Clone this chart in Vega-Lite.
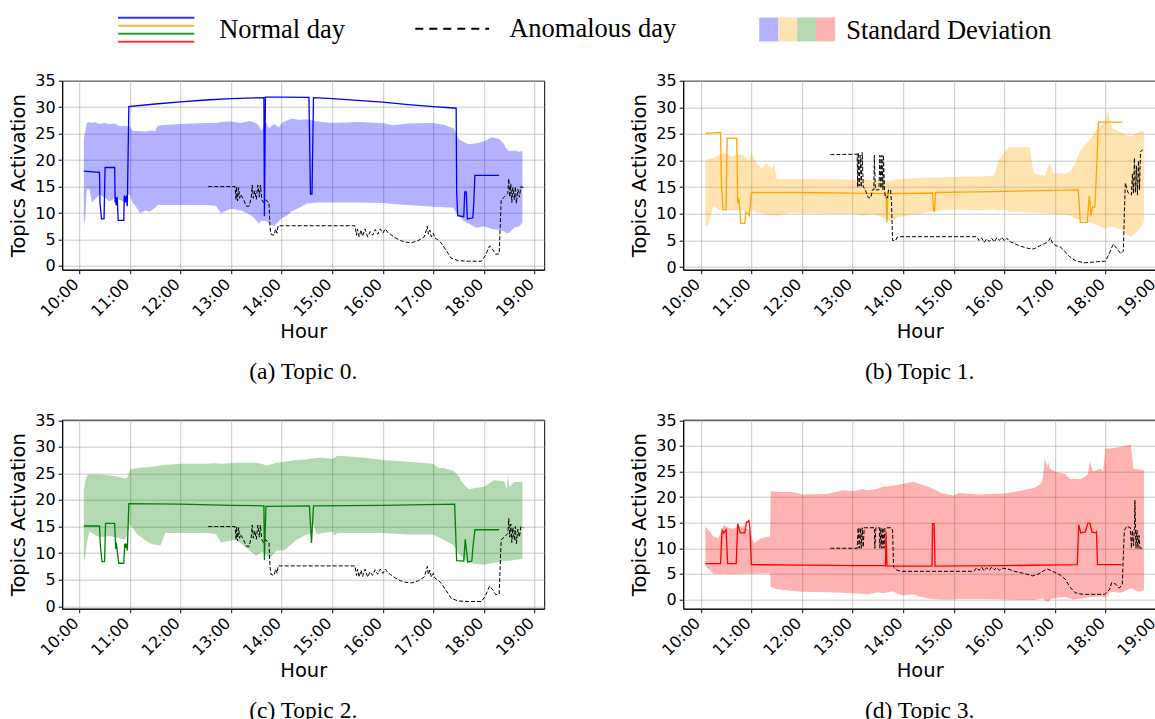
{
  "$schema": "https://vega.github.io/schema/vega-lite/v6.json",
  "padding": {"left": 8.2, "top": 13.7, "right": 0, "bottom": 0},
  "background": "white",
  "bounds": "flush",
  "columns": 2,
  "spacing": {"row": 150, "column": 139},
  "datasets": {
    "line": [
      {"q":"T0","h":10.09,"v":17.9},{"q":"T0","h":10.40,"v":17.7},{"q":"T0","h":10.41,"v":12.0},{"q":"T0","h":10.44,"v":8.9},{"q":"T0","h":10.49,"v":8.9},{"q":"T0","h":10.51,"v":18.6},{"q":"T0","h":10.70,"v":18.6},{"q":"T0","h":10.71,"v":12.0},{"q":"T0","h":10.72,"v":13.0},{"q":"T0","h":10.73,"v":11.5},{"q":"T0","h":10.75,"v":13.0},{"q":"T0","h":10.77,"v":8.6},{"q":"T0","h":10.88,"v":8.6},{"q":"T0","h":10.89,"v":13.3},{"q":"T0","h":10.91,"v":12.0},{"q":"T0","h":10.93,"v":13.3},{"q":"T0","h":10.95,"v":11.3},{"q":"T0","h":10.98,"v":30.1},{"q":"T0","h":11.5,"v":30.6},{"q":"T0","h":12.0,"v":31.0},{"q":"T0","h":12.5,"v":31.35},{"q":"T0","h":13.0,"v":31.6},{"q":"T0","h":13.65,"v":31.8},{"q":"T0","h":13.66,"v":9.4},{"q":"T0","h":13.68,"v":31.9},{"q":"T0","h":14.0,"v":31.9},{"q":"T0","h":14.54,"v":31.85},{"q":"T0","h":14.57,"v":13.6},{"q":"T0","h":14.60,"v":13.6},{"q":"T0","h":14.63,"v":31.8},{"q":"T0","h":15.0,"v":31.6},{"q":"T0","h":15.5,"v":31.3},{"q":"T0","h":16.0,"v":30.95},{"q":"T0","h":16.5,"v":30.5},{"q":"T0","h":17.0,"v":30.1},{"q":"T0","h":17.45,"v":29.8},{"q":"T0","h":17.46,"v":14.0},{"q":"T0","h":17.48,"v":9.5},{"q":"T0","h":17.60,"v":9.3},{"q":"T0","h":17.62,"v":14.0},{"q":"T0","h":17.65,"v":14.0},{"q":"T0","h":17.67,"v":8.9},{"q":"T0","h":17.78,"v":9.1},{"q":"T0","h":17.80,"v":12.3},{"q":"T0","h":17.82,"v":17.1},{"q":"T0","h":18.30,"v":17.1},
      {"q":"T1","h":10.09,"v":25.1},{"q":"T1","h":10.39,"v":25.3},{"q":"T1","h":10.41,"v":15.0},{"q":"T1","h":10.44,"v":10.8},{"q":"T1","h":10.50,"v":10.8},{"q":"T1","h":10.52,"v":24.2},{"q":"T1","h":10.71,"v":24.2},{"q":"T1","h":10.73,"v":12.0},{"q":"T1","h":10.75,"v":13.0},{"q":"T1","h":10.77,"v":11.0},{"q":"T1","h":10.79,"v":8.2},{"q":"T1","h":10.87,"v":8.2},{"q":"T1","h":10.89,"v":10.3},{"q":"T1","h":10.94,"v":10.0},{"q":"T1","h":10.96,"v":9.7},{"q":"T1","h":11.00,"v":14.0},{"q":"T1","h":12.0,"v":14.0},{"q":"T1","h":13.0,"v":13.9},{"q":"T1","h":13.66,"v":13.8},{"q":"T1","h":13.68,"v":8.4},{"q":"T1","h":13.70,"v":13.8},{"q":"T1","h":14.58,"v":13.9},{"q":"T1","h":14.60,"v":10.6},{"q":"T1","h":14.62,"v":10.5},{"q":"T1","h":14.64,"v":14.0},{"q":"T1","h":15.5,"v":14.1},{"q":"T1","h":16.5,"v":14.3},{"q":"T1","h":17.46,"v":14.5},{"q":"T1","h":17.50,"v":8.4},{"q":"T1","h":17.64,"v":8.4},{"q":"T1","h":17.66,"v":11.5},{"q":"T1","h":17.68,"v":13.4},{"q":"T1","h":17.71,"v":9.5},{"q":"T1","h":17.74,"v":11.3},{"q":"T1","h":17.79,"v":11.3},{"q":"T1","h":17.81,"v":15.5},{"q":"T1","h":17.86,"v":27.2},{"q":"T1","h":18.33,"v":27.2},
      {"q":"T2","h":10.09,"v":15.1},{"q":"T2","h":10.40,"v":15.1},{"q":"T2","h":10.42,"v":11.0},{"q":"T2","h":10.45,"v":8.4},{"q":"T2","h":10.50,"v":8.4},{"q":"T2","h":10.52,"v":15.6},{"q":"T2","h":10.70,"v":15.6},{"q":"T2","h":10.72,"v":10.8},{"q":"T2","h":10.73,"v":12.0},{"q":"T2","h":10.75,"v":10.5},{"q":"T2","h":10.78,"v":8.1},{"q":"T2","h":10.88,"v":8.1},{"q":"T2","h":10.90,"v":11.8},{"q":"T2","h":10.92,"v":11.0},{"q":"T2","h":10.93,"v":11.8},{"q":"T2","h":10.95,"v":10.5},{"q":"T2","h":10.98,"v":19.3},{"q":"T2","h":12.0,"v":19.2},{"q":"T2","h":13.0,"v":19.0},{"q":"T2","h":13.65,"v":18.9},{"q":"T2","h":13.66,"v":8.7},{"q":"T2","h":13.69,"v":18.8},{"q":"T2","h":14.55,"v":18.9},{"q":"T2","h":14.59,"v":11.9},{"q":"T2","h":14.63,"v":18.9},{"q":"T2","h":16.0,"v":19.0},{"q":"T2","h":17.42,"v":19.2},{"q":"T2","h":17.46,"v":8.6},{"q":"T2","h":17.60,"v":8.5},{"q":"T2","h":17.63,"v":12.6},{"q":"T2","h":17.68,"v":8.3},{"q":"T2","h":17.76,"v":8.5},{"q":"T2","h":17.78,"v":11.0},{"q":"T2","h":17.82,"v":14.4},{"q":"T2","h":18.30,"v":14.4},
      {"q":"T3","h":10.09,"v":7.0},{"q":"T3","h":10.39,"v":7.0},{"q":"T3","h":10.42,"v":13.5},{"q":"T3","h":10.45,"v":13.0},{"q":"T3","h":10.50,"v":13.6},{"q":"T3","h":10.53,"v":7.0},{"q":"T3","h":10.70,"v":7.0},{"q":"T3","h":10.73,"v":14.8},{"q":"T3","h":10.78,"v":13.0},{"q":"T3","h":10.87,"v":13.0},{"q":"T3","h":10.90,"v":15.0},{"q":"T3","h":10.95,"v":15.4},{"q":"T3","h":10.97,"v":14.0},{"q":"T3","h":11.00,"v":6.8},{"q":"T3","h":12.0,"v":6.7},{"q":"T3","h":13.0,"v":6.6},{"q":"T3","h":13.65,"v":6.6},{"q":"T3","h":13.66,"v":13.2},{"q":"T3","h":13.68,"v":6.5},{"q":"T3","h":14.57,"v":6.5},{"q":"T3","h":14.58,"v":14.8},{"q":"T3","h":14.61,"v":14.8},{"q":"T3","h":14.63,"v":6.5},{"q":"T3","h":16.0,"v":6.6},{"q":"T3","h":17.44,"v":6.8},{"q":"T3","h":17.47,"v":14.6},{"q":"T3","h":17.51,"v":13.0},{"q":"T3","h":17.60,"v":13.2},{"q":"T3","h":17.65,"v":14.9},{"q":"T3","h":17.69,"v":14.9},{"q":"T3","h":17.73,"v":13.2},{"q":"T3","h":17.80,"v":13.0},{"q":"T3","h":17.82,"v":13.2},{"q":"T3","h":17.84,"v":6.8},{"q":"T3","h":18.32,"v":6.8}
    ],
    "anom": [
      {"p":0,"h":12.55,"v":15.0},{"p":0,"h":13.08,"v":15.0},{"p":0,"h":13.10,"v":12.5},{"p":0,"h":13.11,"v":15.0},{"p":0,"h":13.13,"v":12.3},{"p":0,"h":13.15,"v":14.8},{"p":0,"h":13.17,"v":12.8},{"p":0,"h":13.19,"v":13.5},{"p":0,"h":13.25,"v":12.5},{"p":0,"h":13.30,"v":11.3},{"p":0,"h":13.36,"v":11.3},{"p":0,"h":13.40,"v":13.0},{"p":0,"h":13.42,"v":15.3},{"p":0,"h":13.44,"v":12.8},{"p":0,"h":13.47,"v":14.2},{"p":0,"h":13.50,"v":12.6},{"p":0,"h":13.53,"v":15.3},{"p":0,"h":13.56,"v":13.0},{"p":0,"h":13.58,"v":15.3},{"p":0,"h":13.61,"v":12.5},{"p":0,"h":13.64,"v":12.0},{"p":0,"h":13.68,"v":12.5},{"p":0,"h":13.75,"v":12.0},{"p":0,"h":13.77,"v":7.5},{"p":0,"h":13.79,"v":6.0},{"p":0,"h":13.85,"v":5.8},{"p":0,"h":13.88,"v":7.0},{"p":0,"h":13.91,"v":6.2},{"p":0,"h":13.93,"v":7.6},{"p":0,"h":15.45,"v":7.6},{"p":0,"h":15.48,"v":5.8},{"p":0,"h":15.50,"v":7.0},{"p":0,"h":15.53,"v":5.5},{"p":0,"h":15.57,"v":6.8},{"p":0,"h":15.60,"v":5.6},{"p":0,"h":15.65,"v":7.0},{"p":0,"h":15.70,"v":5.5},{"p":0,"h":15.75,"v":6.5},{"p":0,"h":15.80,"v":5.8},{"p":0,"h":15.85,"v":6.9},{"p":0,"h":15.90,"v":6.0},{"p":0,"h":15.95,"v":7.0},{"p":0,"h":16.00,"v":6.2},{"p":0,"h":16.05,"v":7.0},{"p":0,"h":16.10,"v":6.3},{"p":0,"h":16.15,"v":6.0},{"p":0,"h":16.22,"v":5.5},{"p":0,"h":16.35,"v":4.8},{"p":0,"h":16.45,"v":4.5},{"p":0,"h":16.57,"v":4.4},{"p":0,"h":16.70,"v":4.8},{"p":0,"h":16.82,"v":5.5},{"p":0,"h":16.86,"v":6.8},{"p":0,"h":16.88,"v":7.5},{"p":0,"h":16.90,"v":6.0},{"p":0,"h":16.93,"v":6.8},{"p":0,"h":16.96,"v":5.5},{"p":0,"h":17.00,"v":6.2},{"p":0,"h":17.03,"v":5.3},{"p":0,"h":17.08,"v":5.0},{"p":0,"h":17.14,"v":4.5},{"p":0,"h":17.25,"v":3.0},{"p":0,"h":17.35,"v":1.5},{"p":0,"h":17.49,"v":1.0},{"p":0,"h":17.70,"v":0.9},{"p":0,"h":17.95,"v":0.9},{"p":0,"h":18.03,"v":2.0},{"p":0,"h":18.11,"v":3.8},{"p":0,"h":18.18,"v":3.0},{"p":0,"h":18.23,"v":2.2},{"p":0,"h":18.30,"v":2.3},{"p":0,"h":18.34,"v":12.5},{"p":0,"h":18.40,"v":13.0},{"p":0,"h":18.47,"v":13.7},{"p":0,"h":18.49,"v":16.5},{"p":0,"h":18.51,"v":13.0},{"p":0,"h":18.53,"v":15.5},{"p":0,"h":18.55,"v":12.0},{"p":0,"h":18.57,"v":14.8},{"p":0,"h":18.60,"v":12.5},{"p":0,"h":18.62,"v":15.0},{"p":0,"h":18.64,"v":11.8},{"p":0,"h":18.67,"v":14.5},{"p":0,"h":18.70,"v":13.0},{"p":0,"h":18.73,"v":15.0},{"p":0,"h":18.78,"v":14.8},
      {"p":2,"h":12.55,"v":15.0},{"p":2,"h":13.08,"v":15.0},{"p":2,"h":13.10,"v":12.5},{"p":2,"h":13.11,"v":15.0},{"p":2,"h":13.13,"v":12.3},{"p":2,"h":13.15,"v":14.8},{"p":2,"h":13.17,"v":12.8},{"p":2,"h":13.19,"v":13.5},{"p":2,"h":13.25,"v":12.5},{"p":2,"h":13.30,"v":11.3},{"p":2,"h":13.36,"v":11.3},{"p":2,"h":13.40,"v":13.0},{"p":2,"h":13.42,"v":15.3},{"p":2,"h":13.44,"v":12.8},{"p":2,"h":13.47,"v":14.2},{"p":2,"h":13.50,"v":12.6},{"p":2,"h":13.53,"v":15.3},{"p":2,"h":13.56,"v":13.0},{"p":2,"h":13.58,"v":15.3},{"p":2,"h":13.61,"v":12.5},{"p":2,"h":13.64,"v":12.0},{"p":2,"h":13.68,"v":12.5},{"p":2,"h":13.75,"v":12.0},{"p":2,"h":13.77,"v":7.5},{"p":2,"h":13.79,"v":6.0},{"p":2,"h":13.85,"v":5.8},{"p":2,"h":13.88,"v":7.0},{"p":2,"h":13.91,"v":6.2},{"p":2,"h":13.93,"v":7.6},{"p":2,"h":15.45,"v":7.6},{"p":2,"h":15.48,"v":5.8},{"p":2,"h":15.50,"v":7.0},{"p":2,"h":15.53,"v":5.5},{"p":2,"h":15.57,"v":6.8},{"p":2,"h":15.60,"v":5.6},{"p":2,"h":15.65,"v":7.0},{"p":2,"h":15.70,"v":5.5},{"p":2,"h":15.75,"v":6.5},{"p":2,"h":15.80,"v":5.8},{"p":2,"h":15.85,"v":6.9},{"p":2,"h":15.90,"v":6.0},{"p":2,"h":15.95,"v":7.0},{"p":2,"h":16.00,"v":6.2},{"p":2,"h":16.05,"v":7.0},{"p":2,"h":16.10,"v":6.3},{"p":2,"h":16.15,"v":6.0},{"p":2,"h":16.22,"v":5.5},{"p":2,"h":16.35,"v":4.8},{"p":2,"h":16.45,"v":4.5},{"p":2,"h":16.57,"v":4.4},{"p":2,"h":16.70,"v":4.8},{"p":2,"h":16.82,"v":5.5},{"p":2,"h":16.86,"v":6.8},{"p":2,"h":16.88,"v":7.5},{"p":2,"h":16.90,"v":6.0},{"p":2,"h":16.93,"v":6.8},{"p":2,"h":16.96,"v":5.5},{"p":2,"h":17.00,"v":6.2},{"p":2,"h":17.03,"v":5.3},{"p":2,"h":17.08,"v":5.0},{"p":2,"h":17.14,"v":4.5},{"p":2,"h":17.25,"v":3.0},{"p":2,"h":17.35,"v":1.5},{"p":2,"h":17.49,"v":1.0},{"p":2,"h":17.70,"v":0.9},{"p":2,"h":17.95,"v":0.9},{"p":2,"h":18.03,"v":2.0},{"p":2,"h":18.11,"v":3.8},{"p":2,"h":18.18,"v":3.0},{"p":2,"h":18.23,"v":2.2},{"p":2,"h":18.30,"v":2.3},{"p":2,"h":18.34,"v":12.5},{"p":2,"h":18.40,"v":13.0},{"p":2,"h":18.47,"v":13.7},{"p":2,"h":18.49,"v":16.5},{"p":2,"h":18.51,"v":13.0},{"p":2,"h":18.53,"v":15.5},{"p":2,"h":18.55,"v":12.0},{"p":2,"h":18.57,"v":14.8},{"p":2,"h":18.60,"v":12.5},{"p":2,"h":18.62,"v":15.0},{"p":2,"h":18.64,"v":11.8},{"p":2,"h":18.67,"v":14.5},{"p":2,"h":18.70,"v":13.0},{"p":2,"h":18.73,"v":15.0},{"p":2,"h":18.78,"v":14.8},
      {"p":1,"h":12.56,"v":21.1},{"p":1,"h":13.09,"v":21.2},{"p":1,"h":13.10,"v":15.0},{"p":1,"h":13.11,"v":21.5},{"p":1,"h":13.13,"v":15.2},{"p":1,"h":13.15,"v":21.0},{"p":1,"h":13.17,"v":15.0},{"p":1,"h":13.19,"v":21.5},{"p":1,"h":13.21,"v":15.0},{"p":1,"h":13.24,"v":14.8},{"p":1,"h":13.31,"v":13.0},{"p":1,"h":13.36,"v":13.0},{"p":1,"h":13.39,"v":14.5},{"p":1,"h":13.42,"v":14.5},{"p":1,"h":13.43,"v":21.0},{"p":1,"h":13.45,"v":14.5},{"p":1,"h":13.52,"v":14.5},{"p":1,"h":13.54,"v":21.0},{"p":1,"h":13.56,"v":14.8},{"p":1,"h":13.58,"v":21.0},{"p":1,"h":13.60,"v":14.5},{"p":1,"h":13.61,"v":21.0},{"p":1,"h":13.63,"v":14.5},{"p":1,"h":13.65,"v":13.0},{"p":1,"h":13.69,"v":13.0},{"p":1,"h":13.71,"v":14.5},{"p":1,"h":13.75,"v":14.5},{"p":1,"h":13.77,"v":12.0},{"p":1,"h":13.79,"v":5.0},{"p":1,"h":13.85,"v":5.0},{"p":1,"h":13.88,"v":5.6},{"p":1,"h":13.93,"v":5.7},{"p":1,"h":15.45,"v":5.7},{"p":1,"h":15.50,"v":5.0},{"p":1,"h":15.55,"v":5.5},{"p":1,"h":15.60,"v":4.6},{"p":1,"h":15.65,"v":5.3},{"p":1,"h":15.70,"v":4.8},{"p":1,"h":15.75,"v":5.4},{"p":1,"h":15.80,"v":4.7},{"p":1,"h":15.85,"v":5.5},{"p":1,"h":15.90,"v":5.0},{"p":1,"h":15.95,"v":5.6},{"p":1,"h":16.00,"v":4.9},{"p":1,"h":16.05,"v":5.4},{"p":1,"h":16.10,"v":4.8},{"p":1,"h":16.18,"v":4.5},{"p":1,"h":16.29,"v":4.0},{"p":1,"h":16.47,"v":3.5},{"p":1,"h":16.58,"v":3.4},{"p":1,"h":16.70,"v":4.0},{"p":1,"h":16.84,"v":4.6},{"p":1,"h":16.88,"v":5.0},{"p":1,"h":16.91,"v":5.5},{"p":1,"h":16.95,"v":4.5},{"p":1,"h":17.02,"v":4.0},{"p":1,"h":17.10,"v":3.8},{"p":1,"h":17.17,"v":3.2},{"p":1,"h":17.28,"v":2.0},{"p":1,"h":17.42,"v":1.1},{"p":1,"h":17.60,"v":0.8},{"p":1,"h":17.82,"v":1.0},{"p":1,"h":18.00,"v":1.1},{"p":1,"h":18.07,"v":2.5},{"p":1,"h":18.15,"v":4.3},{"p":1,"h":18.22,"v":3.5},{"p":1,"h":18.30,"v":2.5},{"p":1,"h":18.35,"v":3.0},{"p":1,"h":18.39,"v":15.8},{"p":1,"h":18.44,"v":14.0},{"p":1,"h":18.51,"v":13.5},{"p":1,"h":18.53,"v":17.5},{"p":1,"h":18.55,"v":13.8},{"p":1,"h":18.57,"v":20.5},{"p":1,"h":18.59,"v":14.0},{"p":1,"h":18.61,"v":19.0},{"p":1,"h":18.63,"v":13.5},{"p":1,"h":18.65,"v":20.0},{"p":1,"h":18.67,"v":14.5},{"p":1,"h":18.69,"v":21.5},{"p":1,"h":18.70,"v":21.8},{"p":1,"h":18.73,"v":22.0},
      {"p":3,"h":12.56,"v":10.0},{"p":3,"h":13.09,"v":10.0},{"p":3,"h":13.11,"v":14.0},{"p":3,"h":13.13,"v":10.0},{"p":3,"h":13.15,"v":14.0},{"p":3,"h":13.17,"v":10.0},{"p":3,"h":13.19,"v":14.0},{"p":3,"h":13.21,"v":10.2},{"p":3,"h":13.23,"v":14.0},{"p":3,"h":13.43,"v":14.0},{"p":3,"h":13.44,"v":10.0},{"p":3,"h":13.46,"v":14.0},{"p":3,"h":13.53,"v":14.0},{"p":3,"h":13.54,"v":10.0},{"p":3,"h":13.56,"v":14.0},{"p":3,"h":13.58,"v":10.0},{"p":3,"h":13.60,"v":14.0},{"p":3,"h":13.62,"v":10.0},{"p":3,"h":13.64,"v":14.0},{"p":3,"h":13.77,"v":14.0},{"p":3,"h":13.79,"v":13.5},{"p":3,"h":13.81,"v":6.3},{"p":3,"h":13.86,"v":5.8},{"p":3,"h":13.95,"v":5.5},{"p":3,"h":15.40,"v":5.5},{"p":3,"h":15.45,"v":6.2},{"p":3,"h":15.50,"v":5.7},{"p":3,"h":15.55,"v":6.3},{"p":3,"h":15.60,"v":5.6},{"p":3,"h":15.65,"v":6.2},{"p":3,"h":15.70,"v":5.7},{"p":3,"h":15.75,"v":6.3},{"p":3,"h":15.80,"v":5.8},{"p":3,"h":15.85,"v":6.2},{"p":3,"h":15.90,"v":5.7},{"p":3,"h":15.95,"v":6.1},{"p":3,"h":16.06,"v":6.0},{"p":3,"h":16.20,"v":5.5},{"p":3,"h":16.42,"v":5.0},{"p":3,"h":16.56,"v":4.6},{"p":3,"h":16.68,"v":5.0},{"p":3,"h":16.84,"v":6.0},{"p":3,"h":16.95,"v":5.5},{"p":3,"h":17.10,"v":4.8},{"p":3,"h":17.20,"v":4.0},{"p":3,"h":17.29,"v":2.5},{"p":3,"h":17.40,"v":1.3},{"p":3,"h":17.55,"v":1.0},{"p":3,"h":17.98,"v":1.0},{"p":3,"h":18.08,"v":2.0},{"p":3,"h":18.12,"v":3.3},{"p":3,"h":18.20,"v":3.0},{"p":3,"h":18.27,"v":2.2},{"p":3,"h":18.33,"v":3.0},{"p":3,"h":18.37,"v":13.5},{"p":3,"h":18.42,"v":14.3},{"p":3,"h":18.49,"v":14.0},{"p":3,"h":18.51,"v":10.0},{"p":3,"h":18.53,"v":13.5},{"p":3,"h":18.55,"v":10.5},{"p":3,"h":18.57,"v":14.0},{"p":3,"h":18.58,"v":19.4},{"p":3,"h":18.60,"v":10.0},{"p":3,"h":18.62,"v":13.5},{"p":3,"h":18.64,"v":10.0},{"p":3,"h":18.66,"v":12.5},{"p":3,"h":18.68,"v":10.0},{"p":3,"h":18.72,"v":10.0},{"p":3,"h":18.75,"v":9.8}
    ],
    "band": [
      {"p":0,"h":10.09,"lo":7.7,"hi":24.0},{"p":0,"h":10.12,"lo":9.0,"hi":25.5},{"p":0,"h":10.15,"lo":14.5,"hi":27.0},{"p":0,"h":10.20,"lo":14.5,"hi":27.2},{"p":0,"h":10.25,"lo":12.0,"hi":27.0},{"p":0,"h":10.30,"lo":12.5,"hi":27.2},{"p":0,"h":10.40,"lo":13.5,"hi":26.8},{"p":0,"h":10.50,"lo":13.0,"hi":27.0},{"p":0,"h":10.60,"lo":12.2,"hi":26.8},{"p":0,"h":10.70,"lo":12.8,"hi":26.9},{"p":0,"h":10.80,"lo":12.5,"hi":26.4},{"p":0,"h":10.90,"lo":12.0,"hi":26.5},{"p":0,"h":10.97,"lo":13.5,"hi":26.3},{"p":0,"h":11.00,"lo":13.5,"hi":26.4},{"p":0,"h":11.05,"lo":12.0,"hi":25.6},{"p":0,"h":11.10,"lo":11.5,"hi":25.5},{"p":0,"h":11.20,"lo":10.0,"hi":25.5},{"p":0,"h":11.30,"lo":10.5,"hi":25.4},{"p":0,"h":11.40,"lo":10.3,"hi":25.6},{"p":0,"h":11.50,"lo":11.0,"hi":25.5},{"p":0,"h":11.55,"lo":11.5,"hi":26.5},{"p":0,"h":11.60,"lo":11.5,"hi":26.6},{"p":0,"h":12.00,"lo":11.5,"hi":26.8},{"p":0,"h":12.50,"lo":11.5,"hi":27.0},{"p":0,"h":12.70,"lo":11.4,"hi":27.0},{"p":0,"h":12.80,"lo":10.0,"hi":27.2},{"p":0,"h":13.00,"lo":10.8,"hi":27.3},{"p":0,"h":13.20,"lo":10.5,"hi":27.0},{"p":0,"h":13.35,"lo":9.8,"hi":27.4},{"p":0,"h":13.45,"lo":9.2,"hi":27.2},{"p":0,"h":13.55,"lo":8.0,"hi":26.6},{"p":0,"h":13.60,"lo":8.6,"hi":25.5},{"p":0,"h":13.65,"lo":8.5,"hi":26.5},{"p":0,"h":13.70,"lo":8.5,"hi":27.0},{"p":0,"h":13.75,"lo":8.0,"hi":26.0},{"p":0,"h":13.85,"lo":7.5,"hi":26.8},{"p":0,"h":13.95,"lo":8.5,"hi":26.2},{"p":0,"h":14.00,"lo":9.0,"hi":27.0},{"p":0,"h":14.10,"lo":9.5,"hi":27.5},{"p":0,"h":14.20,"lo":10.3,"hi":27.8},{"p":0,"h":14.35,"lo":11.0,"hi":27.6},{"p":0,"h":14.50,"lo":11.8,"hi":27.7},{"p":0,"h":14.70,"lo":12.0,"hi":27.3},{"p":0,"h":15.00,"lo":12.0,"hi":27.0},{"p":0,"h":15.50,"lo":12.0,"hi":27.2},{"p":0,"h":16.00,"lo":11.9,"hi":27.0},{"p":0,"h":16.20,"lo":11.7,"hi":26.6},{"p":0,"h":16.50,"lo":11.5,"hi":26.9},{"p":0,"h":17.00,"lo":11.2,"hi":27.0},{"p":0,"h":17.20,"lo":11.1,"hi":26.7},{"p":0,"h":17.40,"lo":11.0,"hi":26.0},{"p":0,"h":17.45,"lo":10.0,"hi":25.0},{"p":0,"h":17.50,"lo":9.5,"hi":24.0},{"p":0,"h":17.60,"lo":8.5,"hi":23.4},{"p":0,"h":17.70,"lo":8.0,"hi":23.0},{"p":0,"h":17.85,"lo":7.2,"hi":23.2},{"p":0,"h":18.00,"lo":7.5,"hi":23.5},{"p":0,"h":18.15,"lo":7.0,"hi":24.3},{"p":0,"h":18.30,"lo":6.8,"hi":24.0},{"p":0,"h":18.40,"lo":6.5,"hi":23.0},{"p":0,"h":18.45,"lo":6.2,"hi":22.0},{"p":0,"h":18.50,"lo":6.3,"hi":21.7},{"p":0,"h":18.60,"lo":7.2,"hi":21.8},{"p":0,"h":18.70,"lo":7.5,"hi":21.6},{"p":0,"h":18.76,"lo":8.2,"hi":21.7},
      {"p":1,"h":10.09,"lo":7.6,"hi":20.0},{"p":1,"h":10.15,"lo":8.0,"hi":20.3},{"p":1,"h":10.25,"lo":11.5,"hi":20.5},{"p":1,"h":10.35,"lo":10.8,"hi":21.0},{"p":1,"h":10.45,"lo":10.6,"hi":21.5},{"p":1,"h":10.60,"lo":10.6,"hi":20.8},{"p":1,"h":10.80,"lo":10.7,"hi":21.2},{"p":1,"h":10.90,"lo":10.5,"hi":20.5},{"p":1,"h":10.95,"lo":9.5,"hi":20.0},{"p":1,"h":11.00,"lo":11.0,"hi":21.3},{"p":1,"h":11.05,"lo":10.5,"hi":20.5},{"p":1,"h":11.10,"lo":10.2,"hi":19.6},{"p":1,"h":11.20,"lo":10.2,"hi":18.5},{"p":1,"h":11.30,"lo":9.8,"hi":19.5},{"p":1,"h":11.40,"lo":9.7,"hi":18.5},{"p":1,"h":11.45,"lo":9.7,"hi":19.5},{"p":1,"h":11.50,"lo":9.7,"hi":16.5},{"p":1,"h":11.80,"lo":10.2,"hi":16.5},{"p":1,"h":12.50,"lo":10.0,"hi":16.5},{"p":1,"h":13.00,"lo":10.0,"hi":16.4},{"p":1,"h":13.20,"lo":9.7,"hi":16.5},{"p":1,"h":13.40,"lo":10.0,"hi":16.3},{"p":1,"h":13.60,"lo":9.3,"hi":16.4},{"p":1,"h":13.75,"lo":8.5,"hi":16.2},{"p":1,"h":13.90,"lo":9.3,"hi":16.5},{"p":1,"h":14.00,"lo":9.5,"hi":16.6},{"p":1,"h":14.30,"lo":9.9,"hi":16.7},{"p":1,"h":14.60,"lo":10.5,"hi":16.8},{"p":1,"h":15.00,"lo":10.8,"hi":16.9},{"p":1,"h":15.50,"lo":10.6,"hi":17.0},{"p":1,"h":15.80,"lo":10.8,"hi":17.2},{"p":1,"h":15.88,"lo":10.6,"hi":20.0},{"p":1,"h":16.00,"lo":10.8,"hi":21.5},{"p":1,"h":16.10,"lo":10.4,"hi":22.5},{"p":1,"h":16.50,"lo":10.3,"hi":22.5},{"p":1,"h":16.55,"lo":10.2,"hi":19.0},{"p":1,"h":16.60,"lo":10.2,"hi":17.5},{"p":1,"h":16.80,"lo":10.1,"hi":17.2},{"p":1,"h":16.90,"lo":10.0,"hi":19.7},{"p":1,"h":16.95,"lo":10.0,"hi":17.7},{"p":1,"h":17.20,"lo":9.8,"hi":17.5},{"p":1,"h":17.30,"lo":9.7,"hi":18.0},{"p":1,"h":17.40,"lo":9.0,"hi":19.5},{"p":1,"h":17.50,"lo":8.9,"hi":22.0},{"p":1,"h":17.60,"lo":8.7,"hi":23.0},{"p":1,"h":17.70,"lo":8.3,"hi":24.0},{"p":1,"h":17.80,"lo":8.0,"hi":25.5},{"p":1,"h":17.90,"lo":7.6,"hi":26.5},{"p":1,"h":18.00,"lo":7.2,"hi":27.5},{"p":1,"h":18.05,"lo":7.4,"hi":29.5},{"p":1,"h":18.10,"lo":7.6,"hi":27.0},{"p":1,"h":18.15,"lo":7.6,"hi":26.0},{"p":1,"h":18.30,"lo":7.0,"hi":25.3},{"p":1,"h":18.40,"lo":6.3,"hi":24.8},{"p":1,"h":18.50,"lo":5.6,"hi":24.5},{"p":1,"h":18.60,"lo":6.5,"hi":25.0},{"p":1,"h":18.70,"lo":7.5,"hi":25.6},{"p":1,"h":18.76,"lo":8.5,"hi":25.4},
      {"p":2,"h":10.09,"lo":8.4,"hi":22.0},{"p":2,"h":10.12,"lo":9.5,"hi":23.5},{"p":2,"h":10.15,"lo":12.0,"hi":24.5},{"p":2,"h":10.20,"lo":14.0,"hi":24.8},{"p":2,"h":10.40,"lo":13.0,"hi":24.8},{"p":2,"h":10.60,"lo":13.2,"hi":24.6},{"p":2,"h":10.80,"lo":12.8,"hi":24.3},{"p":2,"h":10.90,"lo":12.5,"hi":24.0},{"p":2,"h":10.95,"lo":13.5,"hi":24.2},{"p":2,"h":11.00,"lo":15.5,"hi":25.7},{"p":2,"h":11.15,"lo":13.5,"hi":26.0},{"p":2,"h":11.40,"lo":11.8,"hi":26.2},{"p":2,"h":11.60,"lo":11.4,"hi":26.5},{"p":2,"h":11.70,"lo":13.8,"hi":26.6},{"p":2,"h":12.00,"lo":13.8,"hi":26.8},{"p":2,"h":12.50,"lo":13.8,"hi":26.8},{"p":2,"h":12.70,"lo":13.6,"hi":26.9},{"p":2,"h":12.80,"lo":12.0,"hi":26.8},{"p":2,"h":13.10,"lo":12.5,"hi":27.0},{"p":2,"h":13.30,"lo":11.0,"hi":27.0},{"p":2,"h":13.50,"lo":9.5,"hi":27.0},{"p":2,"h":13.60,"lo":10.2,"hi":26.8},{"p":2,"h":13.70,"lo":9.8,"hi":26.5},{"p":2,"h":13.75,"lo":8.8,"hi":26.6},{"p":2,"h":13.90,"lo":10.5,"hi":27.0},{"p":2,"h":14.05,"lo":10.5,"hi":27.2},{"p":2,"h":14.30,"lo":12.5,"hi":27.5},{"p":2,"h":14.50,"lo":13.5,"hi":27.6},{"p":2,"h":14.60,"lo":13.7,"hi":27.8},{"p":2,"h":14.62,"lo":15.5,"hi":27.8},{"p":2,"h":14.70,"lo":13.5,"hi":27.9},{"p":2,"h":14.80,"lo":13.8,"hi":28.0},{"p":2,"h":15.00,"lo":14.0,"hi":27.7},{"p":2,"h":15.05,"lo":13.3,"hi":28.0},{"p":2,"h":15.10,"lo":13.8,"hi":28.3},{"p":2,"h":15.50,"lo":13.8,"hi":28.1},{"p":2,"h":16.00,"lo":13.8,"hi":27.5},{"p":2,"h":16.50,"lo":13.5,"hi":27.2},{"p":2,"h":17.00,"lo":13.5,"hi":26.8},{"p":2,"h":17.10,"lo":13.0,"hi":26.0},{"p":2,"h":17.20,"lo":12.5,"hi":26.0},{"p":2,"h":17.40,"lo":11.5,"hi":25.5},{"p":2,"h":17.50,"lo":10.0,"hi":24.5},{"p":2,"h":17.55,"lo":9.5,"hi":23.5},{"p":2,"h":17.60,"lo":8.8,"hi":23.0},{"p":2,"h":17.70,"lo":8.3,"hi":22.0},{"p":2,"h":17.80,"lo":8.0,"hi":22.2},{"p":2,"h":18.00,"lo":7.8,"hi":22.5},{"p":2,"h":18.20,"lo":8.2,"hi":23.7},{"p":2,"h":18.40,"lo":8.5,"hi":23.5},{"p":2,"h":18.45,"lo":8.5,"hi":22.0},{"p":2,"h":18.47,"lo":8.6,"hi":24.9},{"p":2,"h":18.50,"lo":8.5,"hi":22.5},{"p":2,"h":18.60,"lo":8.7,"hi":23.4},{"p":2,"h":18.76,"lo":8.9,"hi":23.4},
      {"p":3,"h":10.09,"lo":6.5,"hi":14.3},{"p":3,"h":10.20,"lo":5.5,"hi":13.0},{"p":3,"h":10.25,"lo":5.0,"hi":12.3},{"p":3,"h":10.35,"lo":5.0,"hi":12.0},{"p":3,"h":10.40,"lo":4.9,"hi":13.2},{"p":3,"h":10.45,"lo":5.0,"hi":14.5},{"p":3,"h":10.60,"lo":4.9,"hi":13.8},{"p":3,"h":10.85,"lo":5.0,"hi":14.3},{"p":3,"h":10.95,"lo":5.0,"hi":13.5},{"p":3,"h":11.00,"lo":5.0,"hi":12.5},{"p":3,"h":11.05,"lo":5.0,"hi":11.0},{"p":3,"h":11.20,"lo":5.1,"hi":12.0},{"p":3,"h":11.35,"lo":5.1,"hi":12.3},{"p":3,"h":11.37,"lo":5.1,"hi":12.3},{"p":3,"h":11.38,"lo":2.5,"hi":21.2},{"p":3,"h":11.50,"lo":2.0,"hi":21.0},{"p":3,"h":11.80,"lo":1.7,"hi":21.0},{"p":3,"h":12.00,"lo":1.5,"hi":20.5},{"p":3,"h":12.50,"lo":1.4,"hi":20.6},{"p":3,"h":12.80,"lo":1.3,"hi":21.3},{"p":3,"h":13.00,"lo":1.2,"hi":21.2},{"p":3,"h":13.20,"lo":1.1,"hi":21.5},{"p":3,"h":13.30,"lo":1.0,"hi":21.3},{"p":3,"h":13.50,"lo":1.4,"hi":21.6},{"p":3,"h":13.60,"lo":1.2,"hi":22.0},{"p":3,"h":13.80,"lo":1.6,"hi":22.2},{"p":3,"h":13.90,"lo":1.0,"hi":22.4},{"p":3,"h":14.00,"lo":0.8,"hi":22.6},{"p":3,"h":14.20,"lo":1.0,"hi":23.0},{"p":3,"h":14.35,"lo":0.5,"hi":22.5},{"p":3,"h":14.50,"lo":0.2,"hi":22.0},{"p":3,"h":14.60,"lo":0.1,"hi":21.5},{"p":3,"h":14.75,"lo":0.0,"hi":20.8},{"p":3,"h":15.00,"lo":0.0,"hi":20.3},{"p":3,"h":15.10,"lo":0.1,"hi":20.8},{"p":3,"h":15.50,"lo":0.1,"hi":20.5},{"p":3,"h":16.00,"lo":0.0,"hi":20.7},{"p":3,"h":16.30,"lo":-0.1,"hi":21.2},{"p":3,"h":16.60,"lo":-0.1,"hi":21.8},{"p":3,"h":16.70,"lo":0.1,"hi":22.5},{"p":3,"h":16.75,"lo":0.2,"hi":23.0},{"p":3,"h":16.78,"lo":0.0,"hi":26.0},{"p":3,"h":16.80,"lo":-0.2,"hi":27.5},{"p":3,"h":16.85,"lo":-0.4,"hi":26.0},{"p":3,"h":16.87,"lo":-0.5,"hi":26.8},{"p":3,"h":16.90,"lo":0.0,"hi":25.5},{"p":3,"h":17.00,"lo":0.3,"hi":25.0},{"p":3,"h":17.20,"lo":0.5,"hi":24.5},{"p":3,"h":17.30,"lo":0.2,"hi":23.5},{"p":3,"h":17.35,"lo":0.0,"hi":23.5},{"p":3,"h":17.50,"lo":0.2,"hi":23.5},{"p":3,"h":17.60,"lo":0.3,"hi":24.0},{"p":3,"h":17.65,"lo":0.4,"hi":24.5},{"p":3,"h":17.69,"lo":0.5,"hi":27.0},{"p":3,"h":17.75,"lo":0.5,"hi":25.0},{"p":3,"h":17.90,"lo":0.6,"hi":25.5},{"p":3,"h":17.95,"lo":0.5,"hi":25.0},{"p":3,"h":18.00,"lo":0.3,"hi":29.5},{"p":3,"h":18.10,"lo":1.5,"hi":29.5},{"p":3,"h":18.30,"lo":1.3,"hi":29.8},{"p":3,"h":18.50,"lo":2.2,"hi":30.2},{"p":3,"h":18.55,"lo":2.0,"hi":25.5},{"p":3,"h":18.65,"lo":1.5,"hi":25.4},{"p":3,"h":18.76,"lo":1.8,"hi":25.2}
    ]
  },
  "concat": [
    {
      "width": 482, "height": 189,
      "title": {"text": "(a) Topic 0."},
      "layer": [
        {"data": {"name": "band"}, "transform": [{"filter": "datum.p == 0"}],
         "mark": {"type": "area", "opacity": 0.3},
         "encoding": {
           "x": {"field": "h", "type": "quantitative", "title": "Hour", "scale": {"domain": [9.663, 19.19], "nice": false, "zero": false}, "axis": {"values": [10,11,12,13,14,15,16,17,18,19], "labelExpr": "datum.value + ':00'"}},
           "y": {"field": "lo", "type": "quantitative", "title": "Topics Activation", "scale": {"domain": [-0.7, 35], "nice": false, "zero": false}, "axis": {"values": [0,5,10,15,20,25,30,35]}},
           "y2": {"field": "hi"},
           "fill": {"field": "p", "type": "nominal", "scale": {"domain": [0,1,2,3], "range": ["#0000ff","#ffa500","#008000","#ff0000"]},
             "legend": {"orient": "none", "legendX": 697, "legendY": -61, "direction": "horizontal", "columns": 4, "title": "Standard Deviation", "titleOrient": "right", "labelExpr": "''", "labelFontSize": 1, "labelOffset": 0, "columnPadding": 0, "symbolType": "M-1,-1.26H1V1.26H-1Z", "symbolSize": 361, "symbolStrokeWidth": 0, "symbolOpacity": 0.5, "titlePadding": 11}}
         }},
        {"data": {"name": "line"}, "transform": [{"filter": "datum.q == 'T0'"}],
         "mark": {"type": "line", "strokeWidth": 1.3},
         "encoding": {
           "x": {"field": "h", "type": "quantitative", "title": "Hour", "axis": {"values": [10,11,12,13,14,15,16,17,18,19], "labelExpr": "datum.value + ':00'"}},
           "y": {"field": "v", "type": "quantitative", "title": "Topics Activation", "axis": {"values": [0,5,10,15,20,25,30,35]}},
           "stroke": {"field": "q", "type": "nominal", "scale": {"domain": ["T0","T1","T2","T3"], "range": ["#0000ff","#ffa500","#008000","#ff0000"]},
             "legend": {"orient": "none", "legendX": 90, "legendY": -67, "direction": "vertical", "title": "Normal day", "titleOrient": "right", "labelExpr": "''", "labelFontSize": 1, "labelOffset": 0, "rowPadding": 0, "symbolType": "M-12.7,0H12.7", "symbolSize": 36, "symbolStrokeWidth": 2, "symbolOpacity": 0.8, "titlePadding": 21}}
         }},
        {"data": {"name": "anom"}, "transform": [{"filter": "datum.p == 0"}],
         "mark": {"type": "line", "strokeWidth": 1, "stroke": "black", "strokeDash": [4, 2]},
         "encoding": {
           "x": {"field": "h", "type": "quantitative", "title": "Hour", "axis": {"values": [10,11,12,13,14,15,16,17,18,19], "labelExpr": "datum.value + ':00'"}},
           "y": {"field": "v", "type": "quantitative", "title": "Topics Activation", "axis": {"values": [0,5,10,15,20,25,30,35]}}
         }},
        {"data": {"name": "anom"}, "transform": [{"filter": "datum.p == 0"}],
         "mark": {"type": "line", "strokeWidth": 1, "stroke": "black", "opacity": 0},
         "encoding": {
           "x": {"field": "h", "type": "quantitative", "title": "Hour", "axis": {"values": [10,11,12,13,14,15,16,17,18,19], "labelExpr": "datum.value + ':00'"}},
           "y": {"field": "v", "type": "quantitative", "title": "Topics Activation", "axis": {"values": [0,5,10,15,20,25,30,35]}},
           "strokeDash": {"datum": "Anomalous day", "scale": {"domain": ["Anomalous day"], "range": [[8, 6]]},
             "legend": {"orient": "none", "legendX": 386, "legendY": -56, "title": "Anomalous day", "titleOrient": "right", "labelExpr": "''", "labelFontSize": 1, "labelOffset": 0, "symbolType": "M-12.3,0H12.3", "symbolSize": 36, "symbolStrokeWidth": 2, "symbolStrokeColor": "black", "symbolOpacity": 1, "titlePadding": 16,
               "encode": {"symbols": {"update": {"opacity": {"value": 1}, "stroke": {"value": "black"}}}}}}
         }}
      ]
    },
    {
      "width": 473, "height": 189,
      "title": {"text": "(b) Topic 1."},
      "layer": [
        {"data": {"name": "band"}, "transform": [{"filter": "datum.p == 1"}],
         "mark": {"type": "area", "opacity": 0.3},
         "encoding": {
           "x": {"field": "h", "type": "quantitative", "title": "Hour", "scale": {"domain": [9.652, 19.0], "nice": false, "zero": false}, "axis": {"values": [10,11,12,13,14,15,16,17,18,19], "labelExpr": "datum.value + ':00'"}},
           "y": {"field": "lo", "type": "quantitative", "title": "Topics Activation", "scale": {"domain": [-0.5, 35], "nice": false, "zero": false}, "axis": {"values": [0,5,10,15,20,25,30,35]}},
           "y2": {"field": "hi"},
           "fill": {"field": "p", "type": "nominal"}
         }},
        {"data": {"name": "line"}, "transform": [{"filter": "datum.q == 'T1'"}],
         "mark": {"type": "line", "strokeWidth": 1.3},
         "encoding": {
           "x": {"field": "h", "type": "quantitative", "title": "Hour", "axis": {"values": [10,11,12,13,14,15,16,17,18,19], "labelExpr": "datum.value + ':00'"}},
           "y": {"field": "v", "type": "quantitative", "title": "Topics Activation", "axis": {"values": [0,5,10,15,20,25,30,35]}},
           "stroke": {"field": "q", "type": "nominal"}
         }},
        {"data": {"name": "anom"}, "transform": [{"filter": "datum.p == 1"}],
         "mark": {"type": "line", "strokeWidth": 1, "stroke": "black", "strokeDash": [4, 2]},
         "encoding": {
           "x": {"field": "h", "type": "quantitative", "title": "Hour", "axis": {"values": [10,11,12,13,14,15,16,17,18,19], "labelExpr": "datum.value + ':00'"}},
           "y": {"field": "v", "type": "quantitative", "title": "Topics Activation", "axis": {"values": [0,5,10,15,20,25,30,35]}}
         }}
      ]
    },
    {
      "width": 482, "height": 189,
      "title": {"text": "(c) Topic 2."},
      "layer": [
        {"data": {"name": "band"}, "transform": [{"filter": "datum.p == 2"}],
         "mark": {"type": "area", "opacity": 0.3},
         "encoding": {
           "x": {"field": "h", "type": "quantitative", "title": "Hour", "scale": {"domain": [9.663, 19.19], "nice": false, "zero": false}, "axis": {"values": [10,11,12,13,14,15,16,17,18,19], "labelExpr": "datum.value + ':00'"}},
           "y": {"field": "lo", "type": "quantitative", "title": "Topics Activation", "scale": {"domain": [-0.45, 35.1], "nice": false, "zero": false}, "axis": {"values": [0,5,10,15,20,25,30,35]}},
           "y2": {"field": "hi"},
           "fill": {"field": "p", "type": "nominal"}
         }},
        {"data": {"name": "line"}, "transform": [{"filter": "datum.q == 'T2'"}],
         "mark": {"type": "line", "strokeWidth": 1.3},
         "encoding": {
           "x": {"field": "h", "type": "quantitative", "title": "Hour", "axis": {"values": [10,11,12,13,14,15,16,17,18,19], "labelExpr": "datum.value + ':00'"}},
           "y": {"field": "v", "type": "quantitative", "title": "Topics Activation", "axis": {"values": [0,5,10,15,20,25,30,35]}},
           "stroke": {"field": "q", "type": "nominal"}
         }},
        {"data": {"name": "anom"}, "transform": [{"filter": "datum.p == 2"}],
         "mark": {"type": "line", "strokeWidth": 1, "stroke": "black", "strokeDash": [4, 2]},
         "encoding": {
           "x": {"field": "h", "type": "quantitative", "title": "Hour", "axis": {"values": [10,11,12,13,14,15,16,17,18,19], "labelExpr": "datum.value + ':00'"}},
           "y": {"field": "v", "type": "quantitative", "title": "Topics Activation", "axis": {"values": [0,5,10,15,20,25,30,35]}}
         }}
      ]
    },
    {
      "width": 473, "height": 189,
      "title": {"text": "(d) Topic 3."},
      "layer": [
        {"data": {"name": "band"}, "transform": [{"filter": "datum.p == 3"}],
         "mark": {"type": "area", "opacity": 0.3},
         "encoding": {
           "x": {"field": "h", "type": "quantitative", "title": "Hour", "scale": {"domain": [9.652, 19.0], "nice": false, "zero": false}, "axis": {"values": [10,11,12,13,14,15,16,17,18,19], "labelExpr": "datum.value + ':00'"}},
           "y": {"field": "lo", "type": "quantitative", "title": "Topics Activation", "scale": {"domain": [-1.8, 35.1], "nice": false, "zero": false}, "axis": {"values": [0,5,10,15,20,25,30,35]}},
           "y2": {"field": "hi"},
           "fill": {"field": "p", "type": "nominal"}
         }},
        {"data": {"name": "line"}, "transform": [{"filter": "datum.q == 'T3'"}],
         "mark": {"type": "line", "strokeWidth": 1.3},
         "encoding": {
           "x": {"field": "h", "type": "quantitative", "title": "Hour", "axis": {"values": [10,11,12,13,14,15,16,17,18,19], "labelExpr": "datum.value + ':00'"}},
           "y": {"field": "v", "type": "quantitative", "title": "Topics Activation", "axis": {"values": [0,5,10,15,20,25,30,35]}},
           "stroke": {"field": "q", "type": "nominal"}
         }},
        {"data": {"name": "anom"}, "transform": [{"filter": "datum.p == 3"}],
         "mark": {"type": "line", "strokeWidth": 1, "stroke": "black", "strokeDash": [4, 2]},
         "encoding": {
           "x": {"field": "h", "type": "quantitative", "title": "Hour", "axis": {"values": [10,11,12,13,14,15,16,17,18,19], "labelExpr": "datum.value + ':00'"}},
           "y": {"field": "v", "type": "quantitative", "title": "Topics Activation", "axis": {"values": [0,5,10,15,20,25,30,35]}}
         }}
      ]
    }
  ],
  "config": {
    "font": "DejaVu Sans",
    "view": {"stroke": "black", "strokeWidth": 1},
    "axis": {"labelFont": "DejaVu Sans", "labelFontSize": 16, "labelColor": "black", "titleFont": "DejaVu Sans", "titleFontSize": 19.5, "titleFontWeight": "normal", "titleColor": "black", "gridColor": "#b0b0b0", "gridOpacity": 0.7, "gridWidth": 1, "domainColor": "black", "tickColor": "black", "tickSize": 4, "labelPadding": 3, "labelFlush": false, "labelOverlap": false},
    "axisX": {"labelAngle": -45, "labelAlign": "right", "labelBaseline": "alphabetic", "labelPadding": 11, "titlePadding": 3},
    "axisY": {"titlePadding": 6},
    "title": {"font": "Liberation Serif", "fontSize": 23.5, "fontWeight": "normal", "color": "black", "orient": "bottom", "anchor": "middle", "offset": 19},
    "legend": {"titleFont": "Liberation Serif", "titleFontSize": 26.5, "titleFontWeight": "normal", "titleColor": "black", "titleAngle": 0, "titleBaseline": "middle", "titleAnchor": "middle", "titleLimit": 500, "padding": 0}
  }
}
